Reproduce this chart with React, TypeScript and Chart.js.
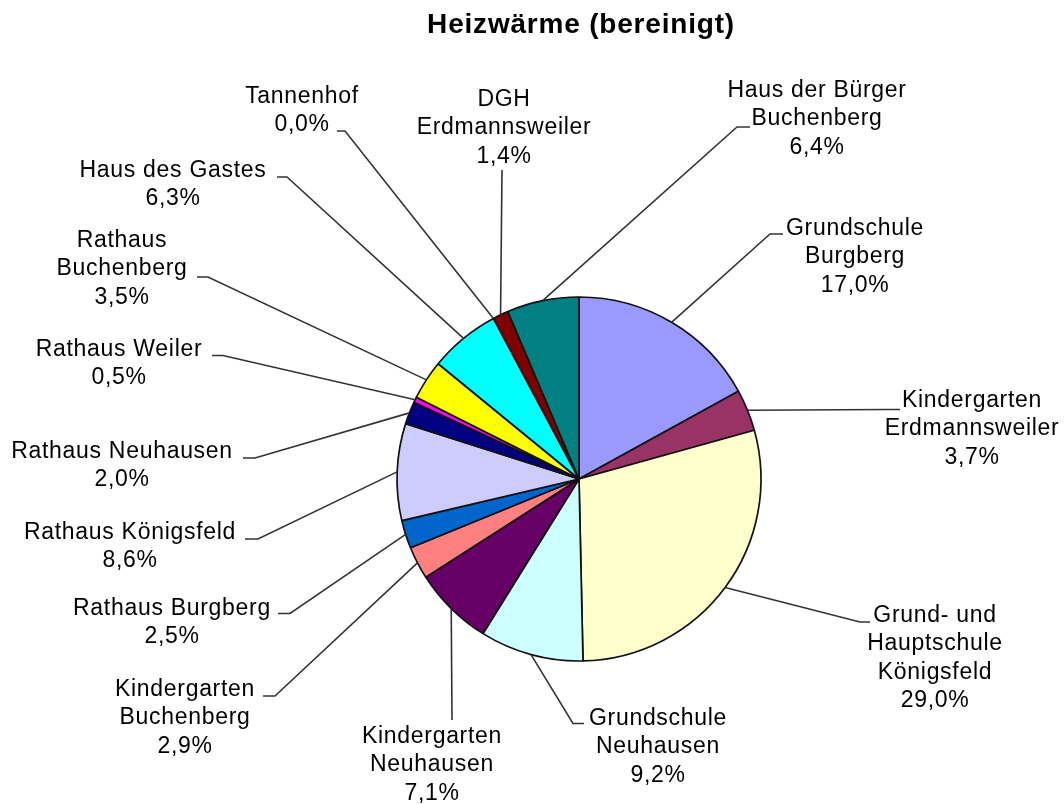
import React, { useEffect, useRef } from "react";
import { Chart, registerables } from "chart.js";

Chart.register(...registerables);

const TITLE = "Heizwärme (bereinigt)";

// category names (split into display lines)
const CATEGORIES: string[][] = [
  ["Grundschule", "Burgberg"],
  ["Kindergarten", "Erdmannsweiler"],
  ["Grund- und", "Hauptschule", "Königsfeld"],
  ["Grundschule", "Neuhausen"],
  ["Kindergarten", "Neuhausen"],
  ["Kindergarten", "Buchenberg"],
  ["Rathaus Burgberg"],
  ["Rathaus Königsfeld"],
  ["Rathaus Neuhausen"],
  ["Rathaus Weiler"],
  ["Rathaus", "Buchenberg"],
  ["Haus des Gastes"],
  ["Tannenhof"],
  ["DGH", "Erdmannsweiler"],
  ["Haus der Bürger", "Buchenberg"],
];

// share of heating energy in %
const VALUES: number[] = [17.0, 3.7, 29.0, 9.2, 7.1, 2.9, 2.5, 8.6, 2.0, 0.5, 3.5, 6.3, 0.0, 1.4, 6.4];

const COLORS: string[] = [
  "#9999FF",
  "#993366",
  "#FFFFCC",
  "#CCFFFF",
  "#660066",
  "#FF8080",
  "#0066CC",
  "#CCCCFF",
  "#000080",
  "#FF00FF",
  "#FFFF00",
  "#00FFFF",
  "#800080",
  "#800000",
  "#008080",
];

// label placement: text centre x, first baseline y, elbow of leader (ex, ey), stub end x (sx)
const LABEL_LAYOUT: { x: number; y: number; ex: number; ey: number; sx: number | null }[] = [
  { x: 855, y: 235, ex: 770, ey: 234, sx: 783 },
  { x: 972, y: 407, ex: 888, ey: 409.5, sx: 900 },
  { x: 935, y: 622, ex: 860, ey: 622, sx: 870 },
  { x: 658, y: 725, ex: 573, ey: 723.5, sx: 584 },
  { x: 432, y: 743, ex: 452, ey: 720, sx: null },
  { x: 185, y: 696, ex: 275, ey: 696, sx: 263 },
  { x: 172, y: 615, ex: 290, ey: 613.5, sx: 278 },
  { x: 130, y: 539, ex: 258, ey: 539, sx: 245 },
  { x: 122, y: 458, ex: 255, ey: 458, sx: 243 },
  { x: 119, y: 356, ex: 223, ey: 355.5, sx: 212 },
  { x: 122, y: 247, ex: 208, ey: 277, sx: 197 },
  { x: 173, y: 177, ex: 287, ey: 177, sx: 277 },
  { x: 302, y: 103, ex: 345, ey: 131, sx: 337 },
  { x: 504, y: 106, ex: 502, ey: 170, sx: null },
  { x: 817, y: 97, ex: 737, ey: 127, sx: 750 },
];

const LINE_HEIGHT = 28.3;

const formatPct = (v: number, total: number) =>
  ((v / total) * 100).toFixed(1).replace(".", ",") + "%";

const outsideLabels = {
  id: "outsideLabels",
  afterDatasetsDraw(chart: any) {
    const ctx: CanvasRenderingContext2D = chart.ctx;
    const meta = chart.getDatasetMeta(0);
    const total = VALUES.reduce((a, b) => a + b, 0);
    ctx.save();
    ctx.strokeStyle = "#333";
    ctx.lineWidth = 1.6;
    meta.data.forEach((arc: any, i: number) => {
      const { x, y, startAngle, endAngle, outerRadius } = arc.getProps(
        ["x", "y", "startAngle", "endAngle", "outerRadius"],
        true
      );
      const mid = (startAngle + endAngle) / 2;
      const px = x + Math.cos(mid) * outerRadius;
      const py = y + Math.sin(mid) * outerRadius;
      const L = LABEL_LAYOUT[i];
      ctx.beginPath();
      ctx.moveTo(px, py);
      ctx.lineTo(L.ex, L.ey);
      if (L.sx !== null) ctx.lineTo(L.sx, L.ey);
      ctx.stroke();
    });

    ctx.fillStyle = "#000";
    ctx.textAlign = "center";
    ctx.textBaseline = "alphabetic";
    ctx.font = "23px 'Liberation Sans', Arial, sans-serif";
    (ctx as any).letterSpacing = "0.7px";
    CATEGORIES.forEach((lines, i) => {
      const L = LABEL_LAYOUT[i];
      const all = [...lines, formatPct(VALUES[i], total)];
      all.forEach((t, k) => {
        ctx.fillText(t, L.x, L.y + k * LINE_HEIGHT);
      });
    });

    ctx.font = "bold 28px 'Liberation Sans', Arial, sans-serif";
    (ctx as any).letterSpacing = "0.8px";
    ctx.fillText(TITLE, 581, 33);
    ctx.restore();
  },
};

export default function App() {
  const ref = useRef<HTMLCanvasElement | null>(null);

  useEffect(() => {
    document.body.style.margin = "0";
    const canvas = ref.current;
    if (!canvas) return;
    const chart = new Chart(canvas, {
      type: "pie",
      data: {
        labels: CATEGORIES.map((l) => l.join(" ")),
        datasets: [
          {
            data: VALUES,
            backgroundColor: COLORS,
            borderColor: "#111",
            borderWidth: 1.7,
            radius: 182,
            hoverOffset: 0,
          } as any,
        ],
      },
      options: {
        responsive: false,
        devicePixelRatio: 1,
        animation: false,
        events: [],
        layout: { padding: { left: 397, right: 303, top: 297, bottom: 143 } },
        plugins: {
          legend: { display: false },
          title: { display: false },
          tooltip: { enabled: false },
        },
      },
      plugins: [outsideLabels],
    });
    return () => chart.destroy();
  }, []);

  return (
    <div style={{ width: 1064, height: 804, background: "#fff", overflow: "hidden" }}>
      <canvas ref={ref} width={1064} height={804} style={{ display: "block" }} />
    </div>
  );
}
